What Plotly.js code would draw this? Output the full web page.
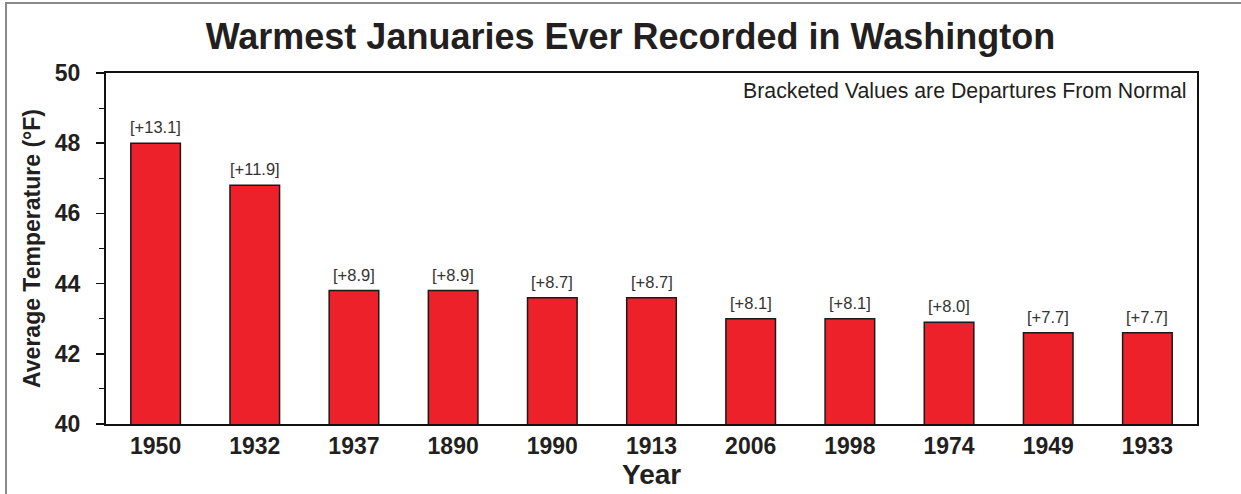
<!DOCTYPE html>
<html>
<head>
<meta charset="utf-8">
<script src="https://cdn.plot.ly/plotly-3.0.1.min.js"></script>
<style>
html,body{margin:0;padding:0;background:#fff;}
#wrap{position:relative;width:1241px;height:494px;}
#frame{position:absolute;left:5px;top:2px;width:1236px;height:492px;border-top:2px solid #8a8a8a;border-left:2px solid #8a8a8a;box-sizing:border-box;pointer-events:none;z-index:5;}
#chart{position:absolute;left:0;top:0;width:1241px;height:494px;}
</style>
</head>
<body>
<div id="wrap"><div id="chart"></div><div id="frame"></div></div>
<script>
const years = ["1950","1932","1937","1890","1990","1913","2006","1998","1974","1949","1933"];
const temps = [48.0, 46.8, 43.8, 43.8, 43.6, 43.6, 43.0, 43.0, 42.9, 42.6, 42.6];
const departures = ["[+13.1]","[+11.9]","[+8.9]","[+8.9]","[+8.7]","[+8.7]","[+8.1]","[+8.1]","[+8.0]","[+7.7]","[+7.7]"];
const yTicks = [40, 42, 44, 46, 48, 50];

const FONT = "Liberation Sans, Arial, Helvetica, sans-serif";
const TXT = "#231f20";

const annotations = years.map((y, i) => ({
  x: i, y: temps[i], xref: "x", yref: "y",
  text: departures[i], showarrow: false,
  yanchor: "middle", yshift: 16,
  font: {family: FONT, size: 16.5, color: "#333333"}
}));
annotations.push({
  xref: "paper", yref: "paper", x: 0.992, y: 0.95,
  xanchor: "right", yanchor: "middle",
  text: "Bracketed Values are Departures From Normal",
  showarrow: false, font: {family: FONT, size: 21.3, color: TXT}
});
annotations.push({
  xref: "paper", yref: "paper", x: 0.5, y: -0.143,
  xanchor: "center", yanchor: "middle",
  text: "<b>Year</b>",
  showarrow: false, font: {family: FONT, size: 28, color: TXT}
});

const trace = {
  type: "bar", x: years, y: temps,
  width: 0.5,
  marker: {color: "#ed2129", line: {color: "#1a1a1a", width: 1.5}},
  hoverinfo: "skip"
};

const layout = {
  width: 1241, height: 494,
  margin: {l: 106, r: 44, t: 73, b: 70},
  paper_bgcolor: "#ffffff", plot_bgcolor: "#ffffff",
  showlegend: false,
  title: {text: "<b>Warmest Januaries Ever Recorded in Washington</b>",
    font: {family: FONT, size: 36, color: TXT},
    x: 0.508, xanchor: "center", y: 0.927, yanchor: "middle"},
  xaxis: {
    type: "category", range: [-0.5, 10.5], autorange: false,
    showgrid: false, zeroline: false,
    showline: true, linecolor: "#111", linewidth: 2, mirror: true,
    ticks: "", tickfont: {family: FONT, size: 23, color: TXT, weight: "bold"},
    ticklabelstandoff: 0
  },
  yaxis: {
    range: [40, 50], autorange: false, tickvals: yTicks, ticktext: yTicks.map(v => "<b>" + v + "</b>"),
    showgrid: false, zeroline: false,
    showline: true, linecolor: "#111", linewidth: 2, mirror: true,
    ticks: "outside", ticklen: 8, tickwidth: 1.5, tickcolor: "#111",
    minor: {dtick: 1, ticks: "outside", ticklen: 5, tickwidth: 1, tickcolor: "#111"},
    tickfont: {family: FONT, size: 23, color: TXT},
    ticklabelstandoff: 11,
    title: {text: "<b>Average Temperature (°F)</b>", font: {family: FONT, size: 23, color: TXT}, standoff: 8}
  },
  annotations: annotations
};

Plotly.newPlot("chart", [trace], layout, {displayModeBar: false, staticPlot: true});
</script>
</body>
</html>
